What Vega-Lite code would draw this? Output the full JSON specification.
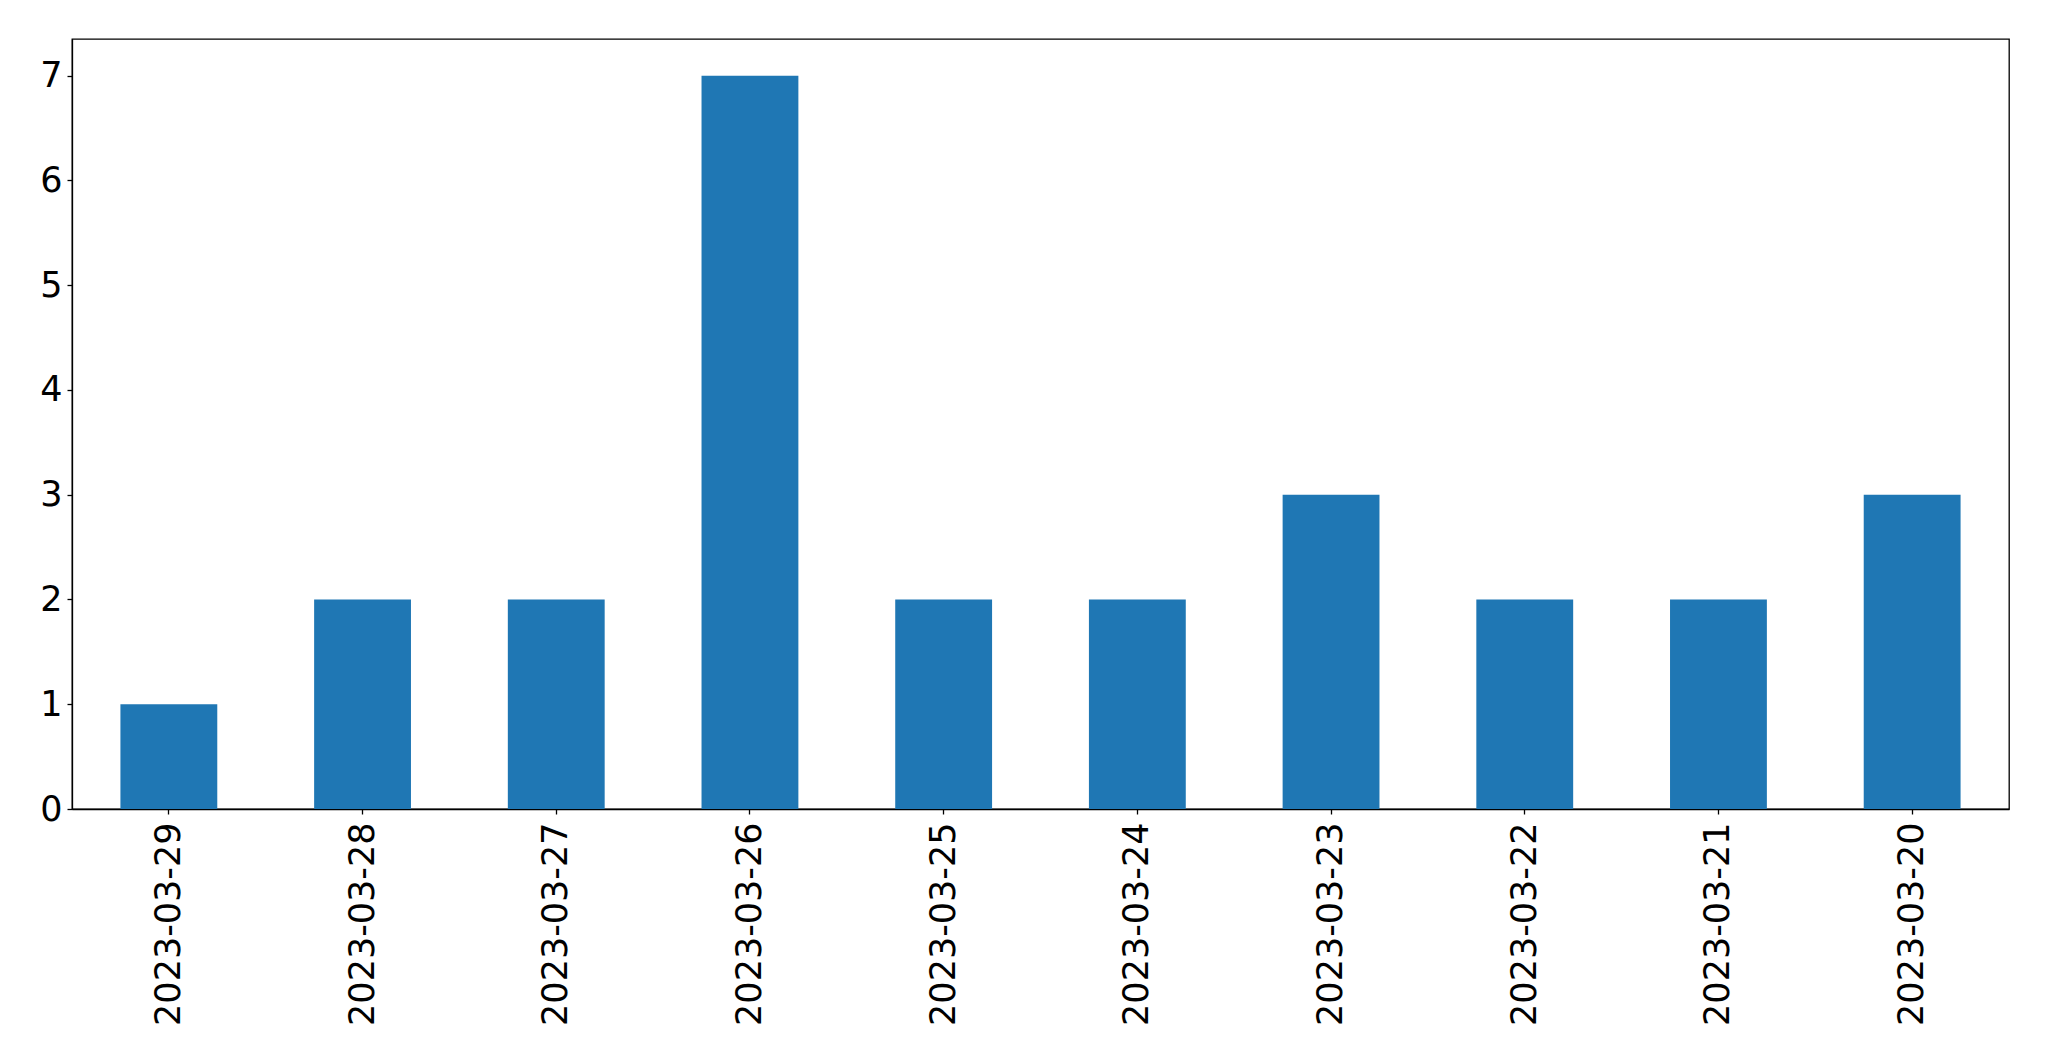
{
  "$schema": "https://vega.github.io/schema/vega-lite/v6.json",
  "width": 1937,
  "height": 770,
  "autosize": {"type": "none"},
  "padding": {"left": 72, "top": 39, "right": 40, "bottom": 252},
  "background": "white",
  "config": {
    "view": {"stroke": "black", "strokeWidth": 1.3},
    "font": "DejaVu Sans",
    "axis": {
      "labelFont": "DejaVu Sans",
      "labelFontSize": 35,
      "labelLimit": 0,
      "labelColor": "black",
      "tickColor": "black",
      "tickSize": 5,
      "tickWidth": 1.3,
      "domainColor": "black",
      "domainWidth": 1.3,
      "grid": false,
      "title": null
    }
  },
  "data": {
    "values": [
      {"date": "2023-03-29", "count": 1},
      {"date": "2023-03-28", "count": 2},
      {"date": "2023-03-27", "count": 2},
      {"date": "2023-03-26", "count": 7},
      {"date": "2023-03-25", "count": 2},
      {"date": "2023-03-24", "count": 2},
      {"date": "2023-03-23", "count": 3},
      {"date": "2023-03-22", "count": 2},
      {"date": "2023-03-21", "count": 2},
      {"date": "2023-03-20", "count": 3}
    ]
  },
  "mark": {"type": "bar", "color": "#1f77b4"},
  "encoding": {
    "x": {
      "field": "date",
      "type": "nominal",
      "sort": null,
      "scale": {"paddingInner": 0.5, "paddingOuter": 0.25},
      "axis": {"labelAngle": -90, "labelPadding": 8, "labelLimit": 0, "title": null}
    },
    "y": {
      "field": "count",
      "type": "quantitative",
      "scale": {"domain": [0, 7.35], "nice": false},
      "axis": {"values": [0, 1, 2, 3, 4, 5, 6, 7], "labelPadding": 5, "title": null}
    }
  }
}
